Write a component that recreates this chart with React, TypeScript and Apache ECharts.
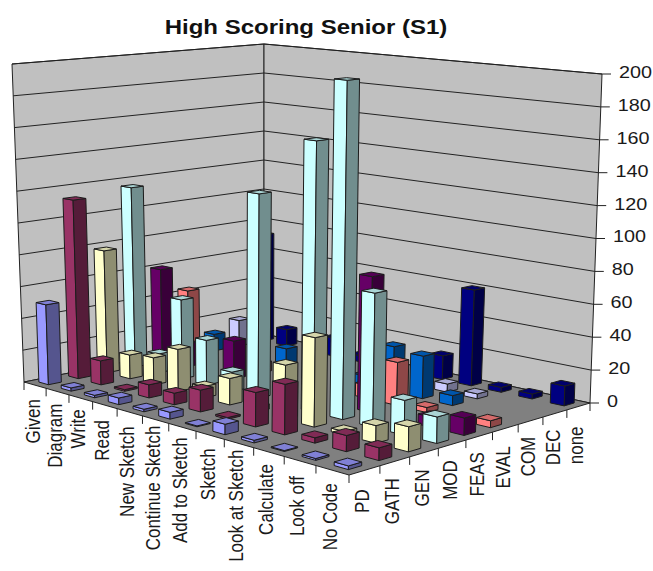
import React, { useEffect, useRef } from "react";
import * as echarts from "echarts";

const categories = ["Given", "Diagram", "Write", "Read", "New Sketch", "Continue Sketch", "Add to Sketch", "Sketch", "Look at Sketch", "Calculate", "Look off", "No Code"];
const codes = ["PD", "GATH", "GEN", "MOD", "FEAS", "EVAL", "COM", "DEC", "none"];
const yTicks = [0, 20, 40, 60, 80, 100, 120, 140, 160, 180, 200];

const pd = [50, 2, 1.5, 4, 1.5, 4, 0.5, 6, 1.5, 0.5, 1, 2];
const gath = [113, 15, 1, 8, 7, 13, 1, 20, 29, 3, 9, 7];
const gen = [78, 15, 17, 26, 7, 16, 3, 32, 52, 2, 10, 14];
const mod = [116, 12, 50, 28, 12, 125, 0, 162, 200, 78, 20, 15];
const feas = [60, 15, 0, 24, 0, 0, 0, 0, 81, 0, 6, 10];
const evalCode = [43, 0, 0, 6, 8, 0, 0, 8, 26, 3, 0, 4];
const com = [11, 0, 0, 12, 0, 0, 6, 28, 26, 6, 0, 0];
const dec = [17, 0, 0, 0, 0, 0, 0, 0, 5, 3, 0, 0];
const none = [72, 11, 0, 12, 4, 0, 0, 15, 60, 3, 3, 12];
const rows = [pd, gath, gen, mod, feas, evalCode, com, dec, none];

const faceColors = ["#9999FF", "#993366", "#FFFFCC", "#CCFFFF", "#660066", "#FF8080", "#0066CC", "#CCCCFF", "#000080"];

const WIDTH = 653;
const HEIGHT = 571;
const BAR_FRACTION = 0.43;
const EDGE = "#1c1c1c";
const FONT = "'Liberation Sans', Arial, sans-serif";

// Corners of the plot box in page pixels: floor, then the plane at the axis maximum.
const floorCorners = [[24, 382], [349, 475], [590, 403], [264, 334]];
const topCorners = [[12, 64], [353, 102], [602, 74], [264, 44]];

// Distance from the floor edge down to the start of each rotated axis text.
const categoryDrop = [14, 12, 11, 15, 14, 6, 10, 13, 6, 12, 15, 13];
const codeDrop = [19, 17, 17, 16, 16, 18, 16, 16, 20];

function solve(A: number[][], b: number[]): number[] {
  const n = b.length;
  const M = A.map((r, i) => [...r, b[i]]);
  for (let c = 0; c < n; c++) {
    let p = c;
    for (let r = c + 1; r < n; r++) if (Math.abs(M[r][c]) > Math.abs(M[p][c])) p = r;
    [M[c], M[p]] = [M[p], M[c]];
    for (let r = 0; r < n; r++) {
      if (r === c) continue;
      const f = M[r][c] / M[c][c];
      for (let k = c; k <= n; k++) M[r][k] -= f * M[c][k];
    }
  }
  return M.map((r, i) => r[n] / r[i]);
}

// Plane homography through four corners, with u and v running 0..1 across the plane.
function planeMap(corners: number[][]) {
  const uv = [[0, 0], [1, 0], [1, 1], [0, 1]];
  const A: number[][] = [];
  const b: number[] = [];
  uv.forEach(([u, v], i) => {
    const [x, y] = corners[i];
    A.push([u, v, 1, 0, 0, 0, -u * x, -v * x]);
    b.push(x);
    A.push([0, 0, 0, u, v, 1, -u * y, -v * y]);
    b.push(y);
  });
  const [a, c, d, e, f, h, g, k] = solve(A, b);
  return (u: number, v: number) => {
    const w = g * u + k * v + 1;
    return [(a * u + c * v + d) / w, (e * u + f * v + h) / w];
  };
}

const floorPlane = planeMap(floorCorners);
const topPlane = planeMap(topCorners);

// u runs along the categories, v along the codes, t up the value axis; all 0..1.
function project(u: number, v: number, t: number): number[] {
  const p = floorPlane(u, v);
  const q = topPlane(u, v);
  return [p[0] + (q[0] - p[0]) * t, p[1] + (q[1] - p[1]) * t];
}

function shade(hex: string, factor: number): string {
  const n = parseInt(hex.slice(1), 16);
  const c = [(n >> 16) & 255, (n >> 8) & 255, n & 255].map((x) => Math.round(x * factor));
  return `rgb(${c[0]},${c[1]},${c[2]})`;
}

function poly(points: number[][], fill: string, stroke = EDGE, lineWidth = 1) {
  return { type: "polygon", shape: { points }, style: { fill, stroke, lineWidth } };
}

function line(a: number[], b: number[]) {
  return { type: "line", shape: { x1: a[0], y1: a[1], x2: b[0], y2: b[1] }, style: { stroke: "#222", lineWidth: 1 } };
}

function verticalText(name: string, x: number, y: number) {
  return {
    type: "text",
    x,
    y,
    rotation: Math.PI / 2,
    scaleY: 1.2,
    style: { text: name, fontSize: 17, fontFamily: FONT, fill: "#1a1a1a", align: "right", verticalAlign: "middle" },
  };
}

// Walls, floor, gridlines, ticks and all axis texts.
function backdrop() {
  const L0 = project(0, 0, 0), F0 = project(1, 0, 0), R0 = project(1, 1, 0), B0 = project(0, 1, 0);
  const L1 = project(0, 0, 1), R1 = project(1, 1, 1), B1 = project(0, 1, 1);
  const out: any[] = [
    poly([L0, B0, B1, L1], "#C0C0C0", "#222"),
    poly([B0, R0, R1, B1], "#C0C0C0", "#222"),
    poly([L0, F0, R0, B0], "#808080", "#222"),
  ];
  yTicks.forEach((tick) => {
    const t = tick / 200;
    const a = project(0, 0, t), b = project(0, 1, t), c = project(1, 1, t);
    if (tick > 0) {
      out.push(line(a, b), line(b, c));
    }
    out.push(line(c, [c[0] + 9, c[1]]));
    out.push({
      type: "text",
      x: c[0] + 17,
      y: c[1] - 1.5,
      scaleX: 1.2,
      style: { text: String(tick), fontSize: 16.5, fontFamily: FONT, fill: "#1a1a1a", align: "left", verticalAlign: "middle" },
    });
  });
  categories.forEach((name, i) => {
    const p = project(i / 12, 0, 0);
    out.push(line(p, [p[0], p[1] + 8]));
    const m = project((i + 0.5) / 12, 0, 0);
    out.push(verticalText(name, m[0] - 2.5, m[1] + categoryDrop[i]));
  });
  codes.forEach((name, s) => {
    const p = project(1, s / 9, 0);
    out.push(line(p, [p[0], p[1] + 8]));
    const m = project(1, (s + 0.5) / 9, 0);
    out.push(verticalText(name, m[0] - 2.5, m[1] + codeDrop[s]));
  });
  const last = project(1, 1, 0);
  out.push(line(last, [last[0], last[1] + 8]));
  out.push({
    type: "text",
    x: 306,
    y: 27,
    scaleX: 1.2,
    style: { text: "High Scoring Senior (S1)", fontSize: 20, fontWeight: "bold", fontFamily: FONT, fill: "#111", align: "center", verticalAlign: "middle" },
  });
  return out;
}

function barRenderer(rank: number) {
  return (_params: any, api: any) => {
    const value = api.value(1);
    if (!value) return null;
    const u = api.coord([api.value(0), 0])[0] / api.getWidth();
    const height = api.getHeight();
    const t = (height - api.coord([0, value])[1]) / height;
    const v = (rank + 0.5) / codes.length;
    const du = (0.5 * BAR_FRACTION) / categories.length;
    const dv = (0.5 * BAR_FRACTION) / codes.length;
    const base = faceColors[rank];
    const at = (a: number, b: number, h: number) => project(u + a * du, v + b * dv, h);
    const children = [
      poly([at(-1, -1, 0), at(1, -1, 0), at(1, -1, t), at(-1, -1, t)], base),
      poly([at(1, -1, 0), at(1, 1, 0), at(1, 1, t), at(1, -1, t)], shade(base, 5 / 9)),
      poly([at(-1, -1, t), at(1, -1, t), at(1, 1, t), at(-1, 1, t)], shade(base, 5 / 6)),
    ];
    return { type: "group", children };
  };
}

export default function App() {
  const ref = useRef<HTMLDivElement>(null);
  useEffect(() => {
    const chart = echarts.init(ref.current!, undefined, { renderer: "svg" });
    const series = codes
      .map((name, rank) => ({
        type: "custom",
        name,
        clip: false,
        encode: { x: 0, y: 1 },
        data: categories.map((_, i) => [i, rows[rank][i]]),
        renderItem: barRenderer(rank),
      }))
      .reverse();
    chart.setOption({
      animation: false,
      backgroundColor: "#fff",
      grid: { left: 0, right: 0, top: 0, bottom: 0 },
      xAxis: { type: "category", data: categories, show: false },
      yAxis: { type: "value", min: 0, max: 200, interval: 20, show: false },
      graphic: { elements: backdrop() },
      series,
    });
    return () => chart.dispose();
  }, []);
  return <div ref={ref} style={{ position: "fixed", left: 0, top: 0, width: WIDTH, height: HEIGHT }} />;
}
